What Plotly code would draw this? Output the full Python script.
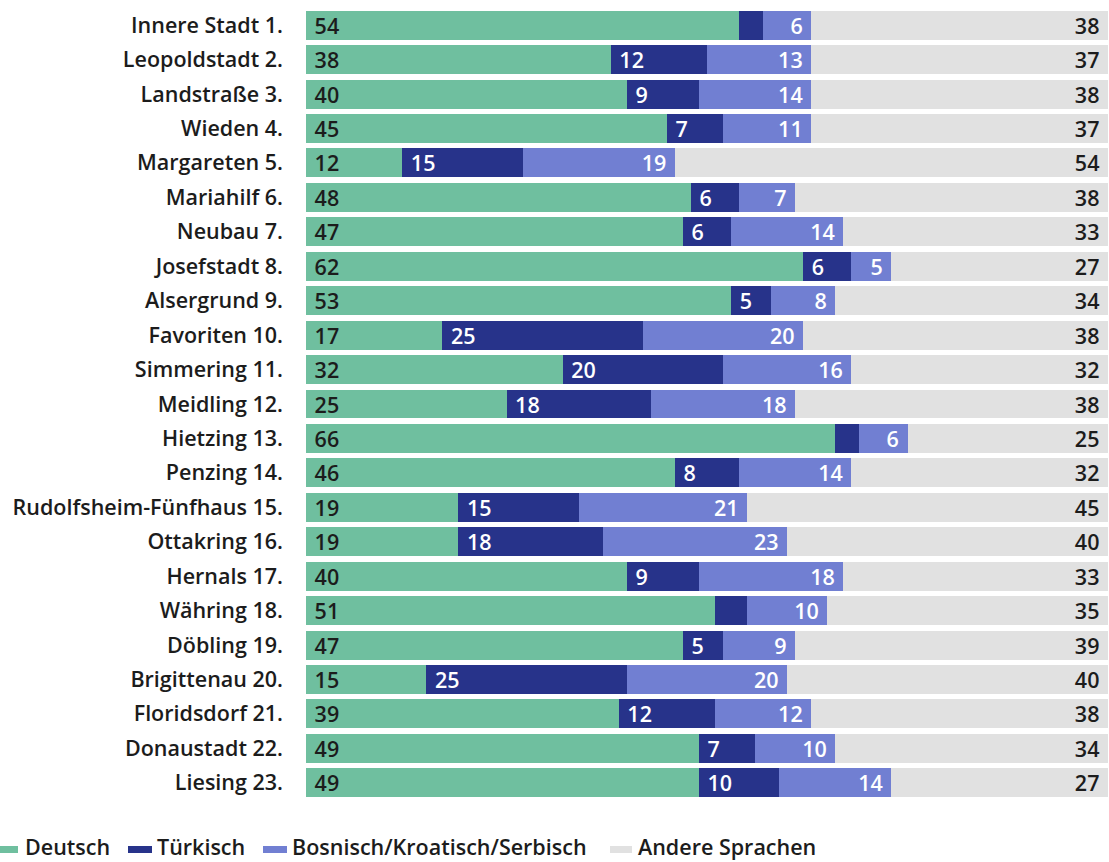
import plotly.graph_objects as go

bezirke = ["Innere Stadt 1.", "Leopoldstadt 2.", "Landstraße 3.", "Wieden 4.", "Margareten 5.",
           "Mariahilf 6.", "Neubau 7.", "Josefstadt 8.", "Alsergrund 9.", "Favoriten 10.",
           "Simmering 11.", "Meidling 12.", "Hietzing 13.", "Penzing 14.",
           "Rudolfsheim-Fünfhaus 15.", "Ottakring 16.", "Hernals 17.", "Währing 18.",
           "Döbling 19.", "Brigittenau 20.", "Floridsdorf 21.", "Donaustadt 22.", "Liesing 23."]
deutsch = [54, 38, 40, 45, 12, 48, 47, 62, 53, 17, 32, 25, 66, 46, 19, 19, 40, 51, 47, 15, 39, 49, 49]
tuerkisch = [3, 12, 9, 7, 15, 6, 6, 6, 5, 25, 20, 18, 3, 8, 15, 18, 9, 4, 5, 25, 12, 7, 10]
bks = [6, 13, 14, 11, 19, 7, 14, 5, 8, 20, 16, 18, 6, 14, 21, 23, 18, 10, 9, 20, 12, 10, 14]
andere = [38, 37, 38, 37, 54, 38, 33, 27, 34, 38, 32, 38, 25, 32, 45, 40, 33, 35, 39, 40, 38, 34, 27]

C_DE = "#6fbf9f"
C_TR = "#27338a"
C_BKS = "#717fd2"
C_AN = "#e1e1e1"
FONT = "Open Sans"
FS = 21.5
FW = 600
NB = "\u00a0"

# remaining share up to 100 % (labels show the rounded published values)
andere_len = [100 - d - t - b for d, t, b in zip(deutsch, tuerkisch, bks)]

fig = go.Figure()
fig.add_bar(y=bezirke, x=deutsch, orientation="h", marker_color=C_DE, name="Deutsch",
            text=[NB + str(v) for v in deutsch], textposition="inside", insidetextanchor="start",
            textfont=dict(color="#1c1c1c", family=FONT, size=FS, weight=FW))
fig.add_bar(y=bezirke, x=tuerkisch, orientation="h", marker_color=C_TR, name="Türkisch",
            text=[(NB + str(v)) if v >= 5 else "" for v in tuerkisch], textposition="inside",
            insidetextanchor="start",
            textfont=dict(color="white", family=FONT, size=FS, weight=FW))
fig.add_bar(y=bezirke, x=bks, orientation="h", marker_color=C_BKS, name="Bosnisch/Kroatisch/Serbisch",
            text=[str(v) + NB for v in bks], textposition="inside", insidetextanchor="end",
            textfont=dict(color="white", family=FONT, size=FS, weight=FW))
fig.add_bar(y=bezirke, x=andere_len, orientation="h", marker_color=C_AN, name="Andere Sprachen",
            text=[str(v) + NB for v in andere], textposition="inside", insidetextanchor="end",
            textfont=dict(color="#1c1c1c", family=FONT, size=FS, weight=FW))
fig.update_traces(marker_line_width=0, showlegend=False, hoverinfo="skip", textangle=0)

ML, MR, MT, MB = 306, 1, 8, 62
W, H = 1109, 862
PW, PH = W - ML - MR, H - MT - MB


def px(x):
    return (x - ML) / PW


def py(y):
    return (H - MB - y) / PH


legend_items = [("Deutsch", C_DE, -2, 18, 23), ("Türkisch", C_TR, 128, 152, 155),
                ("Bosnisch/Kroatisch/Serbisch", C_BKS, 263, 287, 290),
                ("Andere Sprachen", C_AN, 610, 632, 636)]
shapes = []
annotations = []
for name, col, x0, x1, xt in legend_items:
    shapes.append(dict(type="rect", xref="paper", yref="paper", x0=px(x0), x1=px(x1),
                       y0=py(853), y1=py(846), fillcolor=col, line_width=0))
    annotations.append(dict(text=name, xref="paper", yref="paper", x=px(xt), y=py(847),
                            xanchor="left", yanchor="middle", showarrow=False,
                            font=dict(family=FONT, size=FS, color="#1c1c1c", weight=FW)))

fig.update_layout(
    barmode="stack", bargap=0.16,
    width=W, height=H, margin=dict(l=ML, r=MR, t=MT, b=MB, pad=0),
    paper_bgcolor="white", plot_bgcolor="white",
    uniformtext=dict(minsize=FS, mode="show"),
    xaxis=dict(range=[0, 100], visible=False, fixedrange=True),
    yaxis=dict(autorange="reversed", showgrid=False, zeroline=False, showline=False, ticks="",
               ticklabelstandoff=22,
               tickfont=dict(family=FONT, size=FS, color="#1c1c1c", weight=FW)),
    shapes=shapes, annotations=annotations, showlegend=False,
)
fig.write_html("out.html")
